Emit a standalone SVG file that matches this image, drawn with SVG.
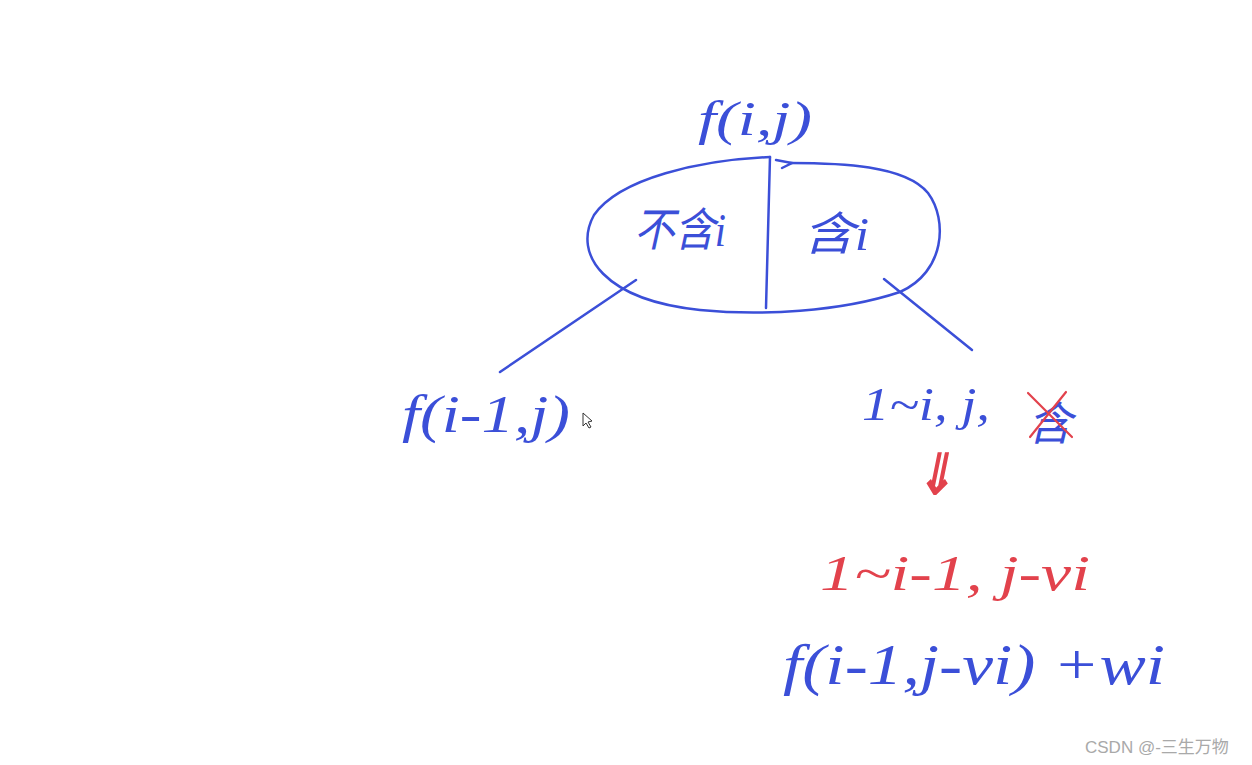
<svg xmlns="http://www.w3.org/2000/svg" width="1252" height="765" viewBox="0 0 1252 765">
<style>
.b{fill:#3b4fd8;font-family:"Liberation Serif","Noto Sans CJK SC",serif;font-style:italic}
.r{fill:#e2424c;font-family:"Liberation Serif","Noto Sans CJK SC",serif;font-style:italic}
.bl{fill:none;stroke:#3b4fd8;stroke-width:2.5;stroke-linecap:round}
.rl{fill:none;stroke:#e2424c;stroke-width:2.2;stroke-linecap:round}
.wm{fill:#a9a9a9;font-family:"Liberation Sans","Noto Sans CJK SC",sans-serif;font-size:17px}
</style>
<rect width="1252" height="765" fill="#ffffff"/>
<g id="root">
<text class="b" x="698" y="135" font-size="48" textLength="114" lengthAdjust="spacingAndGlyphs">f(i,j)</text>
</g>
<g id="choice">
<path class="bl" d="M770,157 C700,160 620,178 594,215 C572,255 605,300 700,310 C760,316 840,312 900,292 C945,272 948,220 928,193 C905,165 840,163 790,163"/>
<path class="bl" d="M770,157 L766,308"/>
<path class="bl" d="M776,160 L792,163 L782,168"/>
<text class="b" x="634" y="246" font-size="46" textLength="92" lengthAdjust="spacingAndGlyphs">不含i</text>
<text class="b" x="803" y="250" font-size="46" textLength="66" lengthAdjust="spacingAndGlyphs">含i</text>
</g>
<g id="connectors">
<path class="bl" d="M636,280 L500,372" stroke-width="1.8"/>
<path class="bl" d="M884,279 L972,350" stroke-width="2"/>
</g>
<g id="left">
<text class="b" x="402" y="432" font-size="52" textLength="168" lengthAdjust="spacingAndGlyphs">f(i-1,j)</text>
<path d="M583,413 L583,426 L586,423 L589,428 L591,427 L588,422 L592,421 Z" fill="#fff" stroke="#333" stroke-width="1"/>
</g>
<g id="right">
<text class="b" x="862" y="420" font-size="46" textLength="128" lengthAdjust="spacingAndGlyphs">1~i, j,</text>
<text class="b" x="1028" y="440" font-size="46" textLength="44" lengthAdjust="spacingAndGlyphs">含</text>
<path class="rl" d="M1028,393 L1072,437 M1066,392 L1030,437"/>
<text class="r" x="916" y="494" font-size="56" font-weight="bold" textLength="38" lengthAdjust="spacingAndGlyphs">⇓</text>
<text class="r" x="820" y="590" font-size="50" textLength="270" lengthAdjust="spacingAndGlyphs">1~i-1, j-vi</text>
<text class="b" x="783" y="684" font-size="58" textLength="382" lengthAdjust="spacingAndGlyphs">f(i-1,j-vi) +wi</text>
</g>
<text class="wm" x="1085" y="753">CSDN @-三生万物</text>
</svg>
